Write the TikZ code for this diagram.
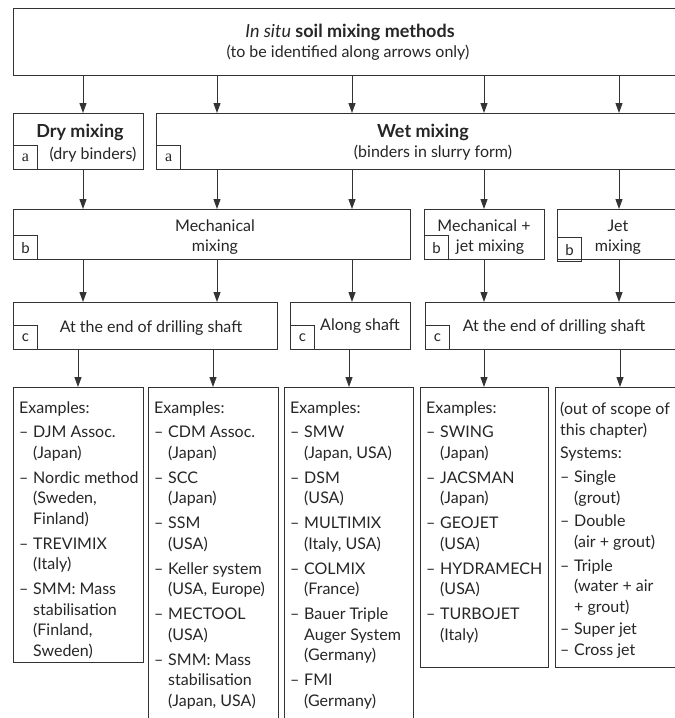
\documentclass[tikz,border=0pt]{standalone}
\usepackage{fontspec}
\setmainfont{Lato}
\newfontfamily\tagserif{Liberation Serif}
\usetikzlibrary{arrows.meta}
\newcommand\exdash{\makebox[14pt][l]{–}}
\newcommand\exind{\hspace*{14pt}}
\begin{document}
\begin{tikzpicture}[x=1pt,y=-1pt,
  box/.style={draw=black!80, line width=1.1pt, rectangle, inner sep=0pt, anchor=north west},
  tag/.style={draw=black!80, line width=1.1pt, rectangle, inner sep=0pt, minimum width=24pt, minimum height=24pt, anchor=south west, text=black!85, font=\fontsize{15}{15}\selectfont},
  lbl/.style={text=black!85, inner sep=0pt, font=\fontsize{16}{20}\selectfont},
  bld/.style={text=black!85, inner sep=0pt, font=\fontsize{18}{20}\selectfont\bfseries},
  arr/.style={draw=black!80, line width=1pt, -{Triangle[length=10pt,width=7pt]}},
  ex/.style={text=black!85, inner sep=0pt, anchor=north west, align=left, font=\fontsize{16}{20.5}\selectfont}
]
\useasboundingbox (0,0) rectangle (675,718);
\fill[white] (0,0) rectangle (675,718);

% boxes
\node[box, minimum width=664pt, minimum height=67pt] (top) at (13,8) {};
\node[box, minimum width=130pt, minimum height=56pt] (dry) at (13,113) {};
\node[box, minimum width=521pt, minimum height=56pt] (wet) at (156,113) {};
\node[box, minimum width=397pt, minimum height=50pt] (mech) at (13,209) {};
\node[box, minimum width=120pt, minimum height=50pt] (mechjet) at (424,209) {};
\node[box, minimum width=120pt, minimum height=50pt] (jet) at (557,209) {};
\node[box, minimum width=264pt, minimum height=47pt] (ca) at (13,302) {};
\node[box, minimum width=120pt, minimum height=47pt] (cb) at (290,302) {};
\node[box, minimum width=252pt, minimum height=47pt] (cc) at (425,302) {};
\node[box, minimum width=130pt, minimum height=275pt] (ea) at (13,387) {};
\node[box, minimum width=130pt, minimum height=345pt] (eb) at (148,387) {};
\node[box, minimum width=129pt, minimum height=345pt] (ec) at (284,387) {};
\node[box, minimum width=128pt, minimum height=280pt] (ed) at (420,387) {};
\node[box, minimum width=122pt, minimum height=280pt] (ee) at (555,387) {};

% tags
\node[tag, font=\fontsize{16}{16}\selectfont\tagserif] (ta1) at (dry.south west) {a};
\node[tag, font=\fontsize{16}{16}\selectfont\tagserif] (ta2) at (wet.south west) {a};
\node[tag] (tb1) at (mech.south west) {b};
\node[tag] (tb2) at (mechjet.south west) {b};
\node[tag] (tb3) at ([yshift=-2pt]jet.south west) {b};
\node[tag] (tc1) at (ca.south west) {c};
\node[tag] (tc2) at (cb.south west) {c};
\node[tag] (tc3) at (cc.south west) {c};

% labels
\node[bld] (ttl1) at (350,32) {{\mdseries\itshape In situ} soil mixing methods};
\node[lbl] (ttl2) at (348,53) {(to be identified along arrows only)};
\node[bld] (dry1) at (80,132) {Dry mixing};
\node[lbl] (dry2) at (93,155) {(dry binders)};
\node[bld] (wet1) at (423,132) {Wet mixing};
\node[lbl] (wet2) at (433,153) {(binders in slurry form)};
\node[lbl] (mech1) at (215,226) {Mechanical};
\node[lbl] (mech2) at (215,247) {mixing};
\node[lbl] (mj1) at (484,226) {Mechanical +};
\node[lbl] (mj2) at (490,247) {jet mixing};
\node[lbl] (jet1) at (618,226) {Jet};
\node[lbl] (jet2) at (618,247) {mixing};
\node[lbl] (ca1) at (151,328) {At the end of drilling shaft};
\node[lbl] (cb1) at (360,326) {Along shaft};
\node[lbl] (cc1) at (554,327) {At the end of drilling shaft};

% example texts
\node[ex] (ta) at ([xshift=6pt,yshift=-15pt]ea.north west) {Examples:\\[3.5pt]
\exdash DJM Assoc.\\ \exind (Japan)\\[4.5pt]
\exdash Nordic method\\ \exind (Sweden,\\ \exind Finland)\\[4.5pt]
\exdash TREVIMIX\\ \exind (Italy)\\[4.5pt]
\exdash SMM: Mass\\ \exind stabilisation\\ \exind (Finland,\\ \exind Sweden)};
\node[ex] (tb) at ([xshift=6pt,yshift=-15pt]eb.north west) {Examples:\\[3.5pt]
\exdash CDM Assoc.\\ \exind (Japan)\\[4.5pt]
\exdash SCC\\ \exind (Japan)\\[4.5pt]
\exdash SSM\\ \exind (USA)\\[4.5pt]
\exdash Keller system\\ \exind (USA, Europe)\\[4.5pt]
\exdash MECTOOL\\ \exind (USA)\\[4.5pt]
\exdash SMM: Mass\\ \exind stabilisation\\ \exind (Japan, USA)};
\node[ex] (tc) at ([xshift=6pt,yshift=-15pt]ec.north west) {Examples:\\[3.5pt]
\exdash SMW\\ \exind (Japan, USA)\\[4.5pt]
\exdash DSM\\ \exind (USA)\\[4.5pt]
\exdash MULTIMIX\\ \exind (Italy, USA)\\[4.5pt]
\exdash COLMIX\\ \exind (France)\\[4.5pt]
\exdash Bauer Triple\\ \exind Auger System\\ \exind (Germany)\\[4.5pt]
\exdash FMI\\ \exind (Germany)};
\node[ex] (td) at ([xshift=6pt,yshift=-15pt]ed.north west) {Examples:\\[3.5pt]
\exdash SWING\\ \exind (Japan)\\[4.5pt]
\exdash JACSMAN\\ \exind (Japan)\\[4.5pt]
\exdash GEOJET\\ \exind (USA)\\[4.5pt]
\exdash HYDRAMECH\\ \exind (USA)\\[4.5pt]
\exdash TURBOJET\\ \exind (Italy)};
\node[ex] (te) at ([xshift=5pt,yshift=-15pt]ee.north west) {(out of scope of\\ this chapter)\\[3pt]
Systems:\\[3.5pt]
\exdash Single\\ \exind (grout)\\[3pt]
\exdash Double\\ \exind (air + grout)\\[3.5pt]
\exdash Triple\\ \exind (water + air\\ \exind + grout)\\[2pt]
\exdash Super jet\\
\exdash Cross jet};

% arrow columns
\coordinate (xA) at (83,0);
\coordinate (xB) at (217,0);
\coordinate (xC) at (352,0);
\coordinate (xD) at (484,0);
\coordinate (xE) at (619,0);
\coordinate (yA) at (78,0);
\coordinate (yB) at (213,0);
\coordinate (yC) at (349,0);
\coordinate (yD) at (484,0);
\coordinate (yE) at (620,0);

% row 1
\draw[arr] (top.south -| xA) -- (dry.north -| xA);
\draw[arr] (top.south -| xB) -- (wet.north -| xB);
\draw[arr] (top.south -| xC) -- (wet.north -| xC);
\draw[arr] (top.south -| xD) -- (wet.north -| xD);
\draw[arr] (top.south -| xE) -- (wet.north -| xE);
% row 2
\draw[arr] (dry.south -| xA) -- (mech.north -| xA);
\draw[arr] (wet.south -| xB) -- (mech.north -| xB);
\draw[arr] (wet.south -| xC) -- (mech.north -| xC);
\draw[arr] (wet.south -| xD) -- (mechjet.north -| xD);
\draw[arr] (wet.south -| xE) -- (jet.north -| xE);
% row 3
\draw[arr] (mech.south -| xA) -- (ca.north -| xA);
\draw[arr] (mech.south -| xB) -- (ca.north -| xB);
\draw[arr] (mech.south -| xC) -- (cb.north -| xC);
\draw[arr] (mechjet.south -| xD) -- (cc.north -| xD);
\draw[arr] (jet.south -| xE) -- (cc.north -| xE);
% row 4
\draw[arr] (ca.south -| yA) -- (ea.north -| yA);
\draw[arr] (ca.south -| yB) -- (eb.north -| yB);
\draw[arr] (cb.south -| yC) -- (ec.north -| yC);
\draw[arr] (cc.south -| yD) -- (ed.north -| yD);
\draw[arr] (cc.south -| yE) -- (ee.north -| yE);
\end{tikzpicture}
\end{document}
